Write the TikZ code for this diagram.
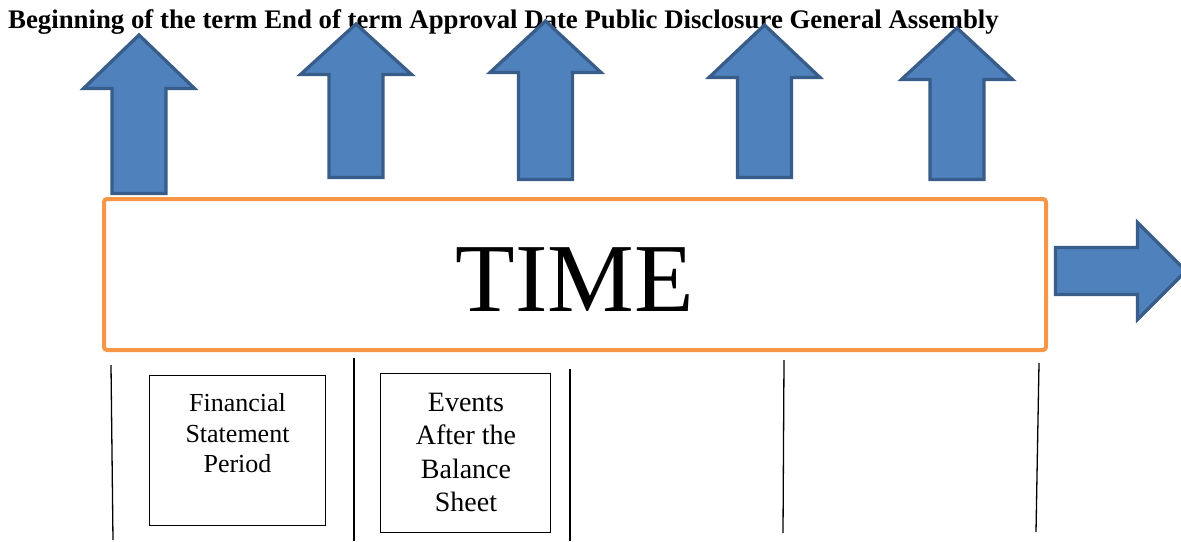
\documentclass[tikz,border=0pt]{standalone}
\usepackage{fontspec}
\setmainfont{Liberation Serif}
\definecolor{arrowfill}{HTML}{4F81BD}
\definecolor{arrowline}{HTML}{385D8A}
\definecolor{timeorange}{HTML}{F79646}
\newcommand\UpArr[4]{% cx, tip, headbase, bottom
  \draw[blockarrow] (#1-27,#4) -- (#1-27,#3) -- (#1-55.5,#3) -- (#1,#2)
    -- (#1+55.5,#3) -- (#1+27,#3) -- (#1+27,#4) -- cycle;}
\begin{document}
\begin{tikzpicture}[x=1pt,y=-1pt,
  blockarrow/.style={fill=arrowfill,draw=arrowline,line width=3.3pt,miter limit=10},
  timebox/.style={draw=timeorange,line width=4pt,rounded corners=3pt,
    minimum width=942pt,minimum height=151pt,inner sep=0pt},
  periodbox/.style={draw=black,line width=1.3pt,inner sep=0pt},
  tickline/.style={draw=black,line width=1.3pt},
  boxlabel/.style={align=center,inner sep=0pt,anchor=north}]
\useasboundingbox (0,0) rectangle (1181,541);
\clip (0,0) rectangle (1181,541);

% heading
\node[anchor=base west,inner sep=0pt,font=\fontsize{26.8}{30}\selectfont\bfseries] (head) at (8,28)
  {Beginning of the term End of term Approval Date Public Disclosure General Assembly};

% up arrows
\UpArr{139}{35}{88.5}{193.5}
\UpArr{356}{24}{74.5}{177.5}
\UpArr{545.5}{21}{72.5}{179.5}
\UpArr{764.5}{25}{77.5}{177.5}
\UpArr{957}{28}{79.5}{179.5}

% time box
\node[timebox] (time) at (575,274.5) {};
\node[anchor=base,inner sep=0pt,font=\fontsize{97.5}{110}\selectfont] (timelbl) at (575,311) {TIME};

% right arrow
\draw[blockarrow] (1055.5,247.5) -- (1137.5,247.5) -- (1137.5,222.5) -- (1186,271)
  -- (1137.5,319.5) -- (1137.5,294.5) -- (1055.5,294.5) -- cycle;

% tick lines
\draw[tickline] (111,365) -- (113,540);
\draw[tickline] (354,358) -- (354,541);
\draw[tickline] (570,369) -- (570,541);
\draw[tickline] (784,360) -- (783,533);
\draw[tickline] (1039,363) -- (1036,532);

% period boxes
\node[periodbox,minimum width=176pt,minimum height=150pt] (fsp) at (237.5,450.5) {};
\node[boxlabel,font=\fontsize{26}{30.5}\selectfont] (fsplbl) at (237.5,393.5)
  {Financial\\Statement\\Period};
\node[periodbox,minimum width=170pt,minimum height=159pt] (eabs) at (465.5,453) {};
\node[boxlabel,font=\fontsize{28}{33.3}\selectfont] (eabslbl) at (466,393)
  {Events\\After the\\Balance\\Sheet};
\end{tikzpicture}
\end{document}
